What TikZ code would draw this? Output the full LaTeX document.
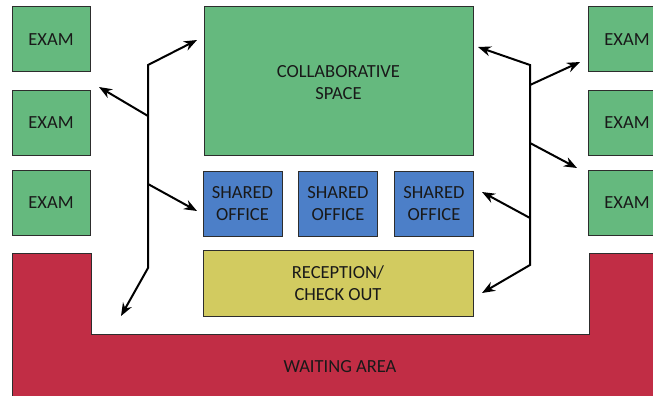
\documentclass[tikz,border=0pt]{standalone}
\usepackage{fontspec}
\setmainfont{Carlito}
\usetikzlibrary{arrows.meta}
\definecolor{examgreen}{RGB}{101,185,126}
\definecolor{offblue}{RGB}{76,127,200}
\definecolor{recyellow}{RGB}{210,203,96}
\definecolor{waitred}{RGB}{193,45,69}
\definecolor{edge}{RGB}{45,45,45}
\definecolor{txt}{RGB}{25,25,25}
\tikzset{
  room/.style={draw=edge, line width=1pt, text=txt, align=center, inner sep=0pt,
    font=\fontsize{18.5}{22}\selectfont},
  exam/.style={room, fill=examgreen, minimum width=78pt, minimum height=65pt},
  office/.style={room, fill=offblue, minimum width=79pt, minimum height=65pt},
  flow/.style={line width=2pt, -{Stealth[length=13pt,width=10pt]}},
  flow2/.style={line width=2pt, {Stealth[length=13pt,width=10pt]}-{Stealth[length=13pt,width=10pt]}}
}
\begin{document}
\begin{tikzpicture}[x=1pt,y=-1pt]
\useasboundingbox (0,0) rectangle (653,396);
\clip (0,0) rectangle (653,396);
\fill[white] (0,0) rectangle (653,396);
% waiting area
\draw[edge, line width=1pt, fill=waitred] (12,253) -- (91,253) -- (91,334) -- (589,334) -- (589,253) -- (670,253) -- (670,410) -- (12,410) -- cycle;
\node[text=txt, font=\fontsize{18.5}{22}\selectfont] (wait) at (340,367) {WAITING AREA};
% exam rooms
\node[exam] (el1) at (51,39.5) {EXAM};
\node[exam] (el2) at (51,123) {EXAM};
\node[exam] (el3) at (51,203) {EXAM};
\node[exam] (er1) at (627,39.5) {EXAM};
\node[exam] (er2) at (627,123) {EXAM};
\node[exam] (er3) at (627,203) {EXAM};
% collaborative space
\node[room, fill=examgreen, minimum width=269pt, minimum height=148pt] (collab) at (338.5,81) {};
\node[text=txt, align=center, font=\fontsize{18.5}{22}\selectfont] (collabtxt) at (338.5,83) {COLLABORATIVE\\SPACE};
% shared offices
\node[office] (o1) at (242.5,203.5) {SHARED\\OFFICE};
\node[office] (o2) at (338,203.5) {SHARED\\OFFICE};
\node[office] (o3) at (434,203.5) {SHARED\\OFFICE};
% reception
\node[room, fill=recyellow, minimum width=270pt, minimum height=66pt] (rec) at (338,283) {RECEPTION/\\CHECK OUT};
% left circulation
\coordinate (lbot) at (148,268);
\coordinate (ltop) at (148,65);
\coordinate (l2) at (148,116);
\coordinate (l3) at (148,184);
\draw[flow2] (121,316) -- (lbot) -- (ltop) -- (197,40);
\draw[flow] (l2) -- (99,87);
\draw[flow] (l3) -- (197,211);
% right circulation
\coordinate (rbot) at (530,265);
\coordinate (rtop) at (530,65);
\coordinate (r1) at (530,85);
\coordinate (r2) at (530,143);
\coordinate (r3) at (530,218);
\draw[flow2] (482,293) -- (rbot) -- (rtop) -- (478,47);
\draw[flow] (r1) -- (580,62);
\draw[flow] (r2) -- (577,168);
\draw[flow] (r3) -- (482,192);
\end{tikzpicture}
\end{document}
